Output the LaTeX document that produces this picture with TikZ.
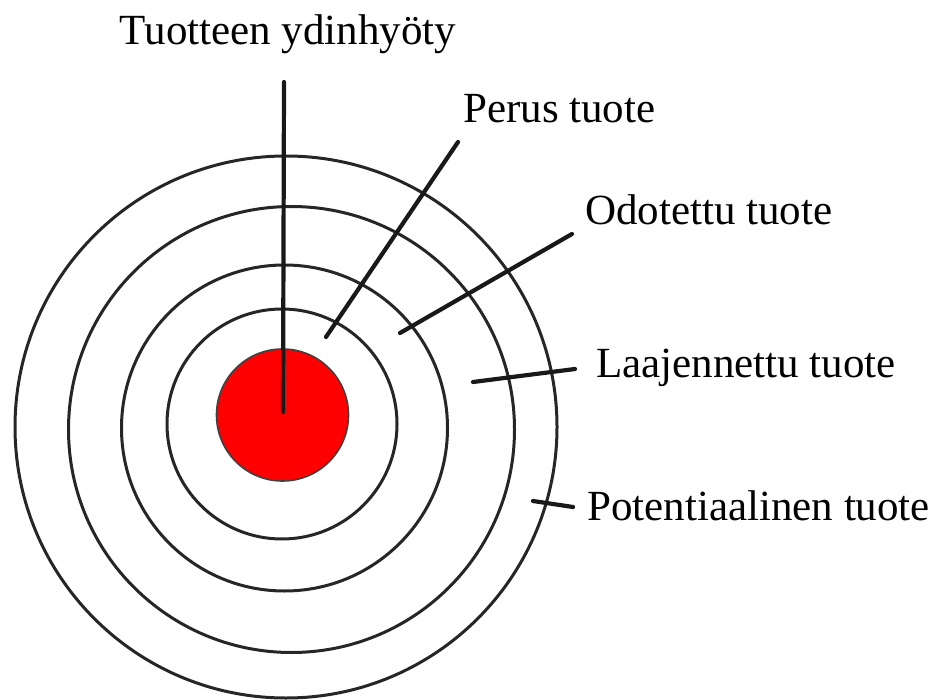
\documentclass[tikz,border=0pt]{standalone}
\usepackage{fontspec}
\setmainfont{Liberation Serif}
\begin{document}
\begin{tikzpicture}[x=1pt,y=-1pt,line cap=round,
    rengas/.style={line width=3pt,black!85},
    osoitin/.style={line width=4.2pt,black!90},
    teksti/.style={inner sep=0pt,font=\fontsize{43}{52}\selectfont}]
    \useasboundingbox (0,0) rectangle (939,700);
    % Renkaat
    \foreach \r/\cx/\cy in {115/282/424, 163/284.5/428, 223/291.5/429.5, 271/286/427}
        \draw[rengas] (\cx,\cy) circle[radius=\r pt];
    % Ydin
    \fill[red,draw=black!75,line width=1.6pt] (282.5,415) circle[radius=66pt];
    % Nimet
    \node[teksti,anchor=base] (ydin) at (288,45) {Tuotteen ydinhyöty};
    \node[teksti,anchor=base west] (perus) at (463,123) {Perus tuote};
    \node[teksti,anchor=base west] (odotettu) at (585,225) {Odotettu tuote};
    \node[teksti,anchor=base west] (laaja) at (596,377) {Laajennettu tuote};
    \node[teksti,anchor=base west] (potent) at (587,520) {Potentiaalinen tuote};
    % Viivojen päät
    \coordinate (y1) at (284,82);   \coordinate (y2) at (283,412);
    \coordinate (p1) at (458,142);  \coordinate (p2) at (326,337);
    \coordinate (o1) at (572,234);  \coordinate (o2) at (400,333);
    \coordinate (l1) at (575,369);  \coordinate (l2) at (473,382);
    \coordinate (t1) at (573,507);  \coordinate (t2) at (533,501);
    % Osoitinviivat
    \draw[osoitin] (y1) -- (y2);
    \draw[osoitin] (p1) -- (p2);
    \draw[osoitin] (o1) -- (o2);
    \draw[osoitin] (l1) -- (l2);
    \draw[osoitin] (t1) -- (t2);
\end{tikzpicture}
\end{document}
